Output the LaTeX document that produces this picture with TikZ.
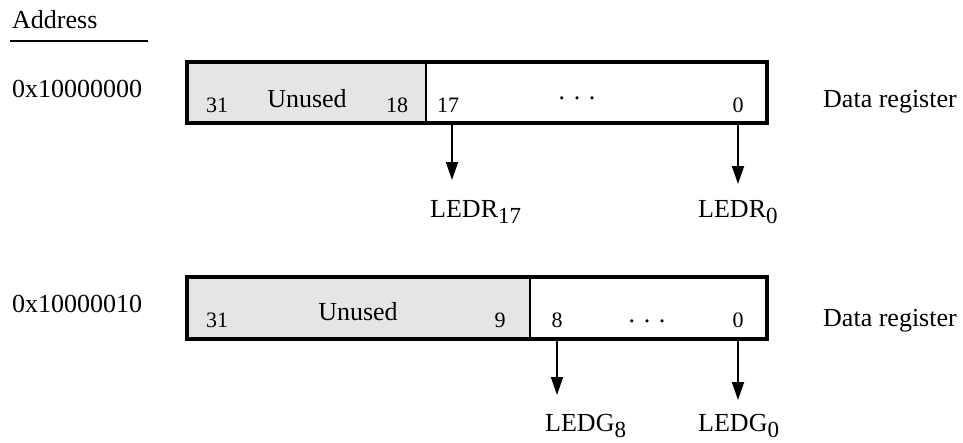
\documentclass[tikz,border=0pt]{standalone}
\usepackage{fontspec}
\setmainfont{Liberation Serif}
\usetikzlibrary{arrows.meta}
\newcommand\lsub[1]{\raisebox{-6pt}{\fontsize{23}{23}\selectfont #1}}
\begin{document}
\begin{tikzpicture}[x=1pt,y=-1pt,
  txt/.style={font=\fontsize{26}{30}\selectfont, inner sep=0pt, anchor=base west},
  ctxt/.style={font=\fontsize{26}{30}\selectfont, inner sep=0pt, anchor=base},
  bitnum/.style={font=\fontsize{22}{26}\selectfont, inner sep=0pt, anchor=base},
  unusedfield/.style={fill=black!10, draw=none, inner sep=0pt, rectangle},
  regbox/.style={draw, line width=3.3pt, inner sep=0pt, rectangle},
  divider/.style={line width=2pt},
  bitarrow/.style={line width=1.8pt, -{Triangle[width=12pt,length=18pt]}}]
\useasboundingbox (0,0) rectangle (963,442);

% header
\node[txt] (addr) at (12,28) {Address};
\draw[line width=2pt] (10,41) -- (148,41);

% ---------- register 1 ----------
\node[txt] (a1) at (12,97) {0x10000000};
\node[unusedfield, minimum width=239pt, minimum height=61pt] (un1) at (306.5,92.5) {};
\node[regbox, minimum width=580pt, minimum height=61pt] (reg1) at (477,92.5) {};
\draw[divider] (un1.north east) -- (un1.south east);
\node[bitnum] (b31a) at (217,112) {31};
\node[ctxt] (u1) at (307,107) {Unused};
\node[bitnum] (b18) at (397,112) {18};
\node[bitnum] (b17) at (448,112) {17};
\node[ctxt] (d1) at (577,99) {. . .};
\node[bitnum] (b0a) at (738,112) {0};
\node[txt] (dr1) at (823,107) {Data register};

\coordinate (t17) at (452,180);
\coordinate (t0a) at (738,184);
\draw[bitarrow] (t17 |- reg1.south) -- (t17);
\draw[bitarrow] (t0a |- reg1.south) -- (t0a);
\node[txt] (ledr17) at (430,217) {LEDR\lsub{17}};
\node[txt] (ledr0) at (698,217) {LEDR\lsub{0}};

% ---------- register 2 ----------
\node[txt] (a2) at (12,312) {0x10000010};
\node[unusedfield, minimum width=343pt, minimum height=62pt] (un2) at (358.5,308) {};
\node[regbox, minimum width=580pt, minimum height=62pt] (reg2) at (477,308) {};
\draw[divider] (un2.north east) -- (un2.south east);
\node[bitnum] (b31b) at (217,327) {31};
\node[ctxt] (u2) at (358,320) {Unused};
\node[bitnum] (b9) at (500,327) {9};
\node[bitnum] (b8) at (557,327) {8};
\node[ctxt] (d2) at (647,322) {. . .};
\node[bitnum] (b0b) at (738,327) {0};
\node[txt] (dr2) at (823,326) {Data register};

\coordinate (t8) at (557,395);
\coordinate (t0b) at (738,400);
\draw[bitarrow] (t8 |- reg2.south) -- (t8);
\draw[bitarrow] (t0b |- reg2.south) -- (t0b);
\node[txt] (ledg8) at (545,431) {LEDG\lsub{8}};
\node[txt] (ledg0) at (698,431) {LEDG\lsub{0}};
\end{tikzpicture}
\end{document}
